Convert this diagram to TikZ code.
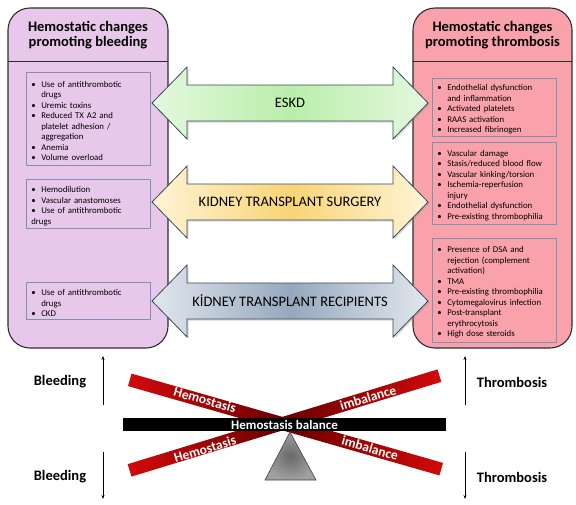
\documentclass[tikz,border=0pt]{standalone}
\usepackage{fontspec}
\setmainfont{Carlito}
\usetikzlibrary{arrows.meta,shadows}
\definecolor{bleedfill}{RGB}{232,200,234}
\definecolor{thrombfill}{RGB}{250,162,172}
\definecolor{panelline}{RGB}{45,45,45}
\definecolor{boxline}{RGB}{125,145,180}
\definecolor{arrowline}{RGB}{55,75,85}
\definecolor{eskdend}{RGB}{228,248,222}
\definecolor{eskdmid}{RGB}{186,238,170}
\definecolor{surgend}{RGB}{255,244,214}
\definecolor{surgmid}{RGB}{248,212,118}
\definecolor{recend}{RGB}{226,231,238}
\definecolor{recmid}{RGB}{150,168,190}
\definecolor{barred}{RGB}{210,10,10}
\definecolor{bardark}{RGB}{105,0,0}
\definecolor{fulcrumin}{RGB}{105,105,105}
\definecolor{fulcrumout}{RGB}{160,160,160}
\newcommand{\itm}[1]{\par\noindent\hangindent=10pt\hangafter=1\makebox[10pt][l]{\textbullet}#1}
% double arrow: name, centre y, end colour, middle colour, label
\newcommand{\dblarrow}[5]{
  \draw[arrowline, line width=0.8pt, left color=#3, right color=#3, middle color=#4,
        drop shadow={shadow xshift=1.5pt, shadow yshift=-1.5pt, opacity=0.3}]
    (152,#2) -- (187,#2-36) -- (187,#2-18) -- (393,#2-18) -- (393,#2-36) -- (428,#2)
    -- (393,#2+36) -- (393,#2+18) -- (187,#2+18) -- (187,#2+36) -- cycle;
  \node[arrowtext] (#1) at (290,#2) {#5};
}

\begin{document}
\begin{tikzpicture}[x=1pt,y=-1pt,
  panel/.style={draw=panelline, line width=1.1pt, rounded corners=22pt},
  header/.style={font=\bfseries\fontsize{14.5}{15.5}\selectfont, align=center},
  listbox/.style={draw=boxline, line width=0.6pt, anchor=north west, text width=114pt,
    inner xsep=5pt, inner ysep=2pt, align=left, font=\fontsize{8.8}{10.5}\selectfont},
  arrowtext/.style={font=\fontsize{14.5}{16}\selectfont},
  sidetext/.style={font=\bfseries\fontsize{14.5}{16}\selectfont},
  redbar/.style={minimum width=324pt, minimum height=13pt, inner sep=0pt,
    left color=barred, right color=barred, middle color=bardark},
  bartext/.style={text=white, font=\bfseries\fontsize{13.5}{14}\selectfont, inner sep=0pt},
  vtip/.style={-{Stealth[length=4pt,width=3pt]}, line width=0.7pt}
]
\useasboundingbox (0,0) rectangle (576,504);

% side panels
\draw[panel, fill=bleedfill] (8,8) rectangle (168,348);
\draw[panel, fill=thrombfill] (413,8) rectangle (572,348);
\draw[panelline, line width=0.8pt] (8,61) -- (168,61);
\draw[panelline, line width=0.8pt] (413,61) -- (572,61);
\node[header] (bleedhead) at (88,35) {Hemostatic changes\\promoting bleeding};
\node[header] (thrombhead) at (492.5,35) {Hemostatic changes\\promoting thrombosis};

% lists, bleeding side
\node[listbox, minimum height=93pt] (bleedeskd) at (26,72) {\itm{Use of antithrombotic\newline drugs}\itm{Uremic toxins}\itm{Reduced TX A2 and\newline platelet adhesion /\newline aggregation}\itm{Anemia}\itm{Volume overload}};
\node[listbox, minimum height=49pt] (bleedsurg) at (26,179) {\itm{Hemodilution}\itm{Vascular anastomoses}\itm{Use of antithrombotic\newline drugs}};
\node[listbox, minimum height=37pt] (bleedrec) at (26,282) {\itm{Use of antithrombotic\newline drugs}\itm{CKD}};

% lists, thrombosis side
\node[listbox, minimum height=51pt] (thrombeskd) at (432,78) {\itm{Endothelial dysfunction\newline and inflammation}\itm{Activated platelets}\itm{RAAS activation}\itm{Increased fibrinogen}};
\node[listbox, minimum height=82pt] (thrombsurg) at (432,142) {\itm{Vascular damage}\itm{Stasis/reduced blood flow}\itm{Vascular kinking/torsion}\itm{Ischemia-reperfusion\newline injury}\itm{Endothelial dysfunction}\itm{Pre-existing thrombophilia}};
\node[listbox, minimum height=104pt] (thrombrec) at (432,238) {\itm{Presence of DSA and\newline rejection (complement\newline activation)}\itm{TMA}\itm{Pre-existing thrombophilia}\itm{Cytomegalovirus infection}\itm{Post-transplant\newline erythrocytosis}\itm{High dose steroids}};

% arrows
\dblarrow{eskd}{103}{eskdend}{eskdmid}{ESKD}
\dblarrow{surgery}{202}{surgend}{surgmid}{KIDNEY TRANSPLANT SURGERY}
\dblarrow{recipients}{301}{recend}{recmid}{KİDNEY TRANSPLANT RECIPIENTS}

% balance
\node[redbar, rotate=-16] (fallbar) at (285.5,424.5) {};
\node[redbar, rotate=17] (risebar) at (284.5,423) {};
\node[bartext, rotate=-16] (hemotop) at (205,400) {Hemostasis};
\node[bartext, rotate=17] (hemobot) at (205,449) {Hemostasis};
\node[bartext, rotate=17] (imbtop) at (368,398) {imbalance};
\node[bartext, rotate=-16] (imbbot) at (370,448) {imbalance};
\node[fill=black, text=white, minimum width=323pt, minimum height=13pt, inner sep=0pt,
  font=\bfseries\fontsize{13}{13}\selectfont] (balance) at (284.5,424.5) {Hemostasis balance};
\shade[draw=black!75, line width=0.6pt, inner color=fulcrumin, outer color=fulcrumout]
  (290,432) -- (316,480) -- (265,480) -- cycle;

\node[sidetext] (bleedup) at (60,382) {Bleeding};
\node[sidetext] (bleeddown) at (60,477) {Bleeding};
\node[sidetext] (thrombup) at (512,382) {Thrombosis};
\node[sidetext] (thrombdown) at (512,477) {Thrombosis};
\foreach \x in {103,465}{
  \draw[vtip] (\x,405) -- (\x,356);
  \draw[vtip] (\x,452) -- (\x,499);
}
\end{tikzpicture}
\end{document}
